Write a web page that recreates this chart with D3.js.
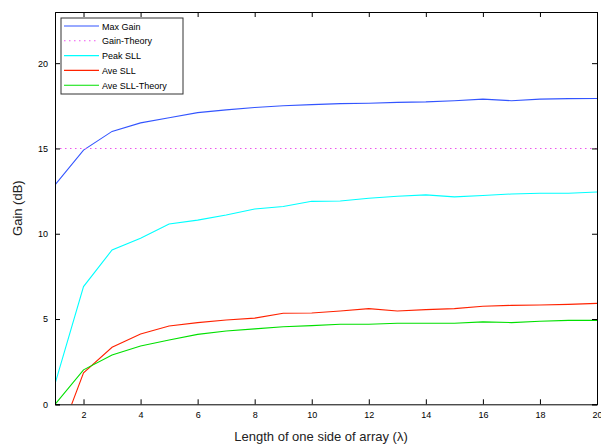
<!DOCTYPE html>
<html><head><meta charset="utf-8">
<script src="https://cdn.jsdelivr.net/npm/d3@7"></script>
<style>body{margin:0;background:#fff}svg{display:block}text{font-family:"Liberation Sans",Arial,sans-serif}</style>
</head><body>
<script>
const lengths = [1,2,3,4,5,6,7,8,9,10,11,12,13,14,15,16,17,18,19,20];
const maxGain = [12.86,14.9,16.0,16.5,16.8,17.1,17.26,17.4,17.5,17.57,17.63,17.65,17.7,17.73,17.8,17.89,17.8,17.89,17.92,17.93];
const gainTheory = [15,15,15,15,15,15,15,15,15,15,15,15,15,15,15,15,15,15,15,15];
const peakSLL = [1.2,6.9,9.05,9.73,10.57,10.8,11.1,11.45,11.6,11.9,11.92,12.08,12.2,12.28,12.16,12.24,12.33,12.37,12.37,12.45];
const aveSLL = [-2.6,1.85,3.34,4.12,4.59,4.79,4.94,5.05,5.34,5.35,5.47,5.61,5.47,5.55,5.61,5.75,5.8,5.82,5.86,5.92];
const aveSLLTheory = [0,2.02,2.89,3.42,3.77,4.1,4.3,4.42,4.55,4.61,4.69,4.69,4.75,4.75,4.75,4.83,4.79,4.87,4.92,4.92];
const xTicks = [2,4,6,8,10,12,14,16,18,20];
const yTicks = [0,5,10,15,20];
const seriesNames = ["Max Gain","Gain-Theory","Peak SLL","Ave SLL","Ave SLL-Theory"];
const seriesColors = ["#3355ff","#ee55ee","#00ffff","#ff2200","#00e000"];
const seriesDash = [null,"1.5,3.5",null,null,null];
const seriesData = [maxGain,gainTheory,peakSLL,aveSLL,aveSLLTheory];

const W=601,H=446;
const L=55,R=597,T=12,B=404.3;
const svg=d3.select("body").append("svg").attr("width",W).attr("height",H);
const x=d3.scaleLinear().domain([1,20]).range([L,R]);
const y=d3.scaleLinear().domain([0,23]).range([B,T]);

svg.append("defs").append("clipPath").attr("id","clip").append("rect")
  .attr("x",L).attr("y",T).attr("width",R-L).attr("height",B-T);

const line=d3.line().x((d,i)=>x(lengths[i])).y(d=>y(d));
const g=svg.append("g").attr("clip-path","url(#clip)");
seriesData.forEach((s,k)=>{
  g.append("path").datum(s).attr("d",line).attr("fill","none")
   .attr("stroke",seriesColors[k]).attr("stroke-width",1.1)
   .attr("stroke-dasharray",seriesDash[k]);
});

// axes
const tl=-5;
svg.append("g").attr("transform",`translate(0,${B})`)
  .call(d3.axisBottom(x).tickValues(xTicks).tickSize(tl).tickPadding(7).tickFormat(d3.format("d")));
svg.append("g").attr("transform",`translate(0,${T})`)
  .call(d3.axisTop(x).tickValues(xTicks).tickSize(tl).tickFormat(""));
svg.append("g").attr("transform",`translate(${L},0)`)
  .call(d3.axisLeft(y).tickValues(yTicks).tickSize(tl).tickPadding(7).tickFormat(d3.format("d")));
svg.append("g").attr("transform",`translate(${R},0)`)
  .call(d3.axisRight(y).tickValues(yTicks).tickSize(tl).tickFormat(""));
svg.selectAll(".domain").attr("stroke","#000").attr("stroke-width",1);
svg.selectAll(".tick line").attr("stroke","#000");
svg.selectAll(".tick text").attr("font-size",9).attr("font-family","Liberation Sans, Arial, sans-serif").attr("fill","#000");

// axis labels
svg.append("text").attr("x",(L+R)/2-5).attr("y",441).attr("text-anchor","middle")
  .attr("font-size",13).attr("fill","#222").text("Length of one side of array (λ)");
svg.append("text").attr("transform",`translate(22,${(T+B)/2}) rotate(-90)`).attr("text-anchor","middle")
  .attr("font-size",13).attr("fill","#222").text("Gain (dB)");

// legend
const lg=svg.append("g");
lg.append("rect").attr("x",61).attr("y",18).attr("width",122).attr("height",76)
  .attr("fill","#fff").attr("stroke","#333").attr("stroke-width",1);
seriesNames.forEach((n,k)=>{
  const yy=26+k*14.8;
  lg.append("line").attr("x1",64).attr("x2",99).attr("y1",yy).attr("y2",yy)
    .attr("stroke",seriesColors[k]).attr("stroke-width",1.1).attr("stroke-dasharray",seriesDash[k]);
  lg.append("text").attr("x",102).attr("y",yy+3.5).attr("font-size",9).attr("fill","#000").text(n);
});
</script>
</body></html>
